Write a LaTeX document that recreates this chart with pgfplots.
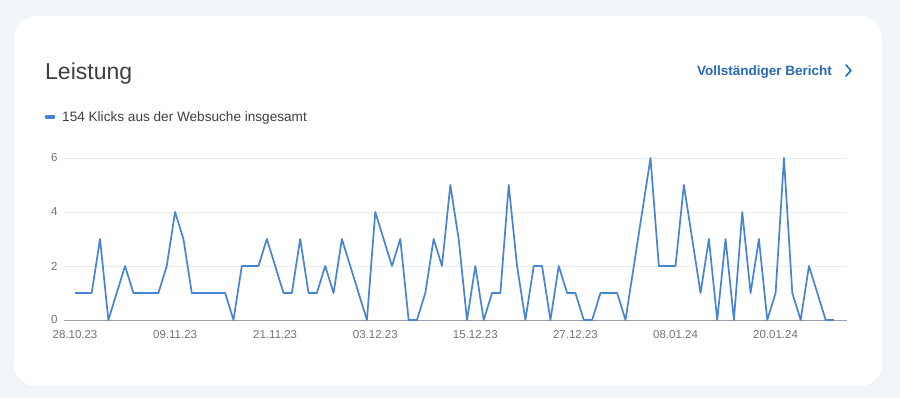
\documentclass[border=0pt]{standalone}
\usepackage{fontspec}
\setmainfont{Liberation Sans}
\usepackage{pgfplots}
\pgfplotsset{compat=1.18}
\usepackage{pgfplotstable}
\definecolor{bgcol}{RGB}{241,244,249}
\definecolor{linecol}{RGB}{72,132,212}
\definecolor{titlecol}{RGB}{60,64,67}
\definecolor{textcol}{RGB}{60,64,67}
\definecolor{tickcol}{RGB}{112,117,122}
\definecolor{linkcol}{RGB}{40,105,180}
\definecolor{gridcol}{RGB}{234,236,238}
\definecolor{basecol}{RGB}{154,160,166}
\pgfplotstableread{
d y
0 1
1 1
2 1
3 3
4 0
5 1
6 2
7 1
8 1
9 1
10 1
11 2
12 4
13 3
14 1
15 1
16 1
17 1
18 1
19 0
20 2
21 2
22 2
23 3
24 2
25 1
26 1
27 3
28 1
29 1
30 2
31 1
32 3
33 2
34 1
35 0
36 4
37 3
38 2
39 3
40 0
41 0
42 1
43 3
44 2
45 5
46 3
47 0
48 2
49 0
50 1
51 1
52 5
53 2
54 0
55 2
56 2
57 0
58 2
59 1
60 1
61 0
62 0
63 1
64 1
65 1
66 0
67 2
68 4
69 6
70 2
71 2
72 2
73 5
74 3
75 1
76 3
77 0
78 3
79 0
80 4
81 1
82 3
83 0
84 1
85 6
86 1
87 0
88 2
89 1
90 0
91 0
}\clicks
\begin{document}
\begin{tikzpicture}[x=1pt,y=1pt]
\path[use as bounding box, fill=bgcol] (0,0) rectangle (900,398);
\fill[white, rounded corners=22pt] (14,12) rectangle (882,382);
\node[anchor=base west, inner sep=0pt, text=titlecol, font=\fontsize{23}{27}\selectfont] at (45,318) {Leistung};
\draw[linecol, line width=3.5pt, line cap=round] (46.5,281) -- (53.5,281);
\node[anchor=base west, inner sep=0pt, text=textcol, font=\fontsize{13.6}{16}\selectfont] at (62,276.5) {154 Klicks aus der Websuche insgesamt};
\node[anchor=base east, inner sep=0pt, text=linkcol, font=\bfseries\fontsize{13.5}{16}\selectfont] at (832,322) {Vollständiger Bericht};
\draw[linkcol, line width=1.6pt, line cap=round, line join=round] (846,333) -- (851,327.5) -- (846,322);
\begin{axis}[
  at={(64pt,78pt)}, anchor=south west,
  scale only axis, width=783pt, height=162pt,
  xmin=-1.32, xmax=92.56, ymin=0, ymax=6,
  axis line style={draw=none},
  major tick length=0pt,
  ytick={2,4,6},
  extra y ticks={0},
  extra y tick style={grid style={color=basecol, line width=0.8pt}},
  ymajorgrids,
  grid style={color=gridcol, line width=0.7pt},
  xtick={0,12,24,36,48,60,72,84},
  xticklabels={28.10.23,09.11.23,21.11.23,03.12.23,15.12.23,27.12.23,08.01.24,20.01.24},
  /pgf/number format/assume math mode=true,
  tick label style={text=tickcol, font=\fontsize{11.5}{13}\selectfont},
  yticklabel style={xshift=-3pt},
  xticklabel style={yshift=-7pt},
  clip=false,
]
\addplot[linecol, line width=1.7pt, line join=round, mark=none] table[x=d, y=y] {\clicks};
\end{axis}
\end{tikzpicture}
\end{document}
